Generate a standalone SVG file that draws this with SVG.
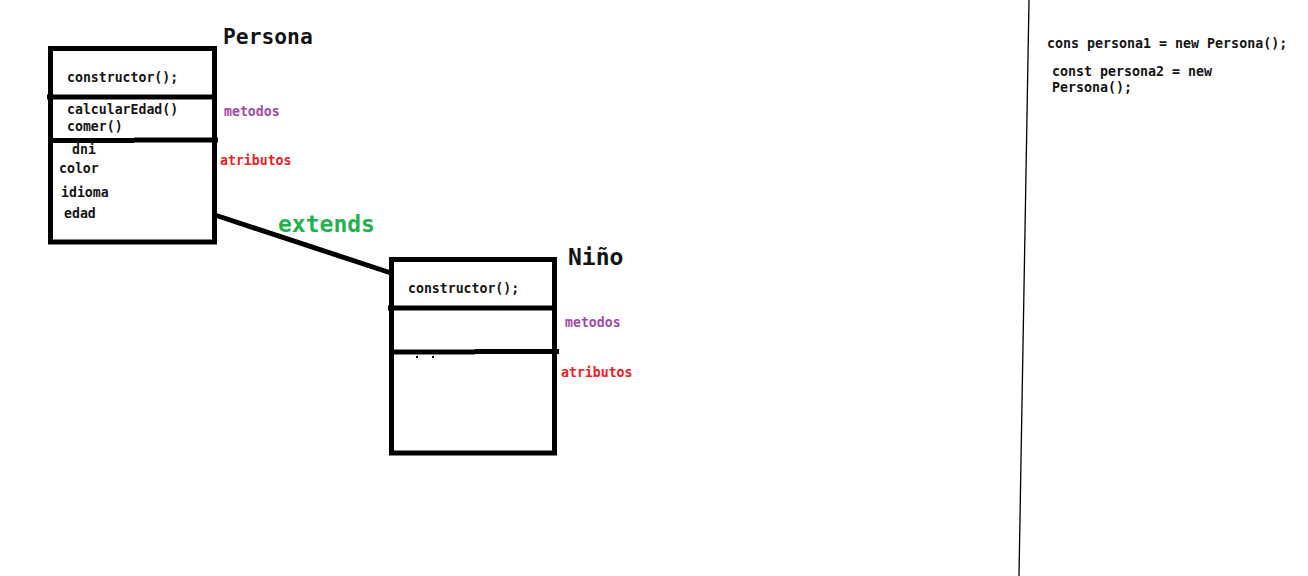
<svg xmlns="http://www.w3.org/2000/svg" width="1308" height="576" viewBox="0 0 1308 576">
<style>
.t{font-family:"DejaVu Sans Mono","Liberation Mono",monospace;font-weight:bold;fill:#141414}
.s14{font-size:13.2px}
.s13{font-size:13.3px}
.title{font-size:21.3px}
.big{font-size:23px}
.met{font-family:"DejaVu Sans Mono","Liberation Mono",monospace;font-weight:bold;font-size:13.2px;fill:#a349a4}
.atr{font-family:"DejaVu Sans Mono","Liberation Mono",monospace;font-weight:bold;font-size:13.2px;fill:#ed1c24}
.box{fill:none;stroke:#000;stroke-width:5}
.ln{stroke:#000;stroke-width:5;fill:none}
</style>
<rect width="1308" height="576" fill="#fff"/>
<g id="connectors">
<line class="ln" x1="215" y1="215" x2="391" y2="273"/>
<text class="t big" x="278" y="232" style="fill:#22b14c">extends</text>
</g>
<g id="persona">
<rect class="box" x="50.5" y="48.5" width="164" height="193.5"/>
<line class="ln" x1="47" y1="97" x2="214" y2="97"/>
<line class="ln" x1="50" y1="140.5" x2="134" y2="140.5"/>
<line class="ln" x1="134" y1="140" x2="218" y2="140"/>
<text class="t title" x="223" y="44">Persona</text>
<text class="t s14" x="67" y="82">constructor();</text>
<text class="t s14" x="67" y="114">calcularEdad()</text>
<text class="t s14" x="67" y="130.5">comer()</text>
<text class="t s14" x="72" y="154">dni</text>
<text class="t s14" x="59" y="173">color</text>
<text class="t s14" x="61" y="197">idioma</text>
<text class="t s14" x="64" y="218">edad</text>
<text class="met" x="224" y="116">metodos</text>
<text class="atr" x="220" y="165">atributos</text>
</g>
<g id="nino">
<rect class="box" x="391.5" y="259.5" width="163" height="193.5"/>
<line class="ln" x1="388" y1="308" x2="554" y2="308"/>
<line class="ln" x1="391" y1="352" x2="475" y2="352"/>
<line class="ln" x1="475" y1="351.5" x2="559" y2="351.5"/>
<rect x="416" y="356" width="2" height="2" fill="#000"/>
<rect x="432" y="356" width="2" height="2" fill="#000"/>
<text class="t big" x="568" y="265">Niño</text>
<text class="t s14" x="408" y="293">constructor();</text>
<text class="met" x="565" y="327">metodos</text>
<text class="atr" x="561" y="377">atributos</text>
</g>
<g id="code">
<line x1="1029" y1="0" x2="1019" y2="576" stroke="#000" stroke-width="1.3"/>
<text class="t s13" x="1047" y="48">cons persona1 = new Persona();</text>
<text class="t s13" x="1052" y="76">const persona2 = new</text>
<text class="t s13" x="1052" y="92">Persona();</text>
</g>
</svg>
